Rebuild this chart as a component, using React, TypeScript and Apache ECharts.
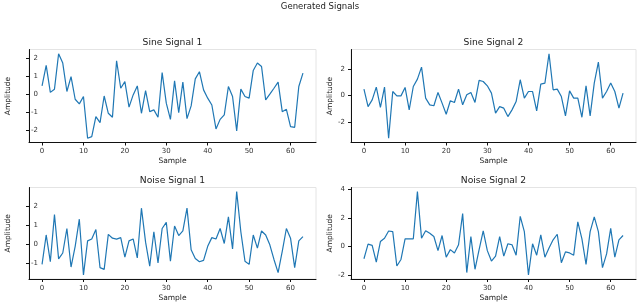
import React, { useEffect, useRef } from "react";
import * as echarts from "echarts";

const sine1 = [
  0.46, 1.6, 0.1, 0.28, 2.25, 1.73, 0.15, 0.98, -0.28, -0.54, -0.13, -2.45, -2.36, -1.25, -1.58, -0.1,
  -1.06, -1.28, 1.86, 0.33, 0.7, -0.72, -0.04, 0.46, -1.06, 0.2, -0.97, -0.87, -1.28, 1.2, -0.5, -1.4,
  0.74, -1.02, 0.67, -1.36, -0.65, 0.85, 1.25, 0.24, -0.22, -0.6, -1.93, -1.4, -1.15, 0.43, -0.13, -2.04,
  0.28, -0.13, -0.22, 1.32, 1.73, 1.54, -0.32, 0.0, 0.33, 0.67, -0.97, -0.84, -1.8, -1.84, 0.43, 1.17,
];
const sine2 = [
  0.48, -0.84, -0.33, 0.63, -0.91, 0.63, -3.24, 0.3, -0.03, -0.03, 0.61, -1.09, 0.68, 1.24, 2.15, -0.2,
  -0.71, -0.78, 0.23, -0.58, -1.42, -0.4, -0.53, 0.48, -0.71, 0.05, 0.23, -0.53, 1.14, 1.06, 0.73, 0.18,
  -1.34, -0.84, -0.96, -1.6, -1.09, -0.46, 1.19, -0.2, 0.3, 0.3, -1.16, 0.86, 0.94, 3.16, 0.43, 0.48,
  -0.08, -1.54, 0.35, -0.2, -0.2, -1.65, 0.73, -1.54, 0.94, 2.53, -0.2, 0.3, 0.94, 0.3, -0.96, 0.18,
];
const noise1 = [
  -1.05, 0.5, -0.91, 1.57, -0.76, -0.45, 0.84, -1.19, -0.1, 1.33, -1.6, 0.19, 0.29, 0.79, -1.22, -1.31,
  0.53, 0.33, 0.28, 0.36, -0.67, 0.19, 0.29, -0.71, 1.91, 0.12, -1.14, 0.67, -0.97, 0.84, 1.16, -0.88,
  0.97, 0.47, 0.71, 1.91, -0.28, -0.74, -0.91, -0.84, -0.1, 0.36, 0.29, 0.84, 0.05, 1.45, -0.24, 2.78,
  0.67, -0.88, -1.05, 0.5, -0.19, 0.71, 0.5, -0.02, -0.79, -1.48, -0.36, 0.84, 0.33, -1.22, 0.19, 0.41,
];
const noise2 = [
  -0.87, 0.16, 0.07, -1.1, 0.34, 0.57, 1.08, 1.03, -1.38, -0.92, 0.53, 0.53, 0.53, 3.84, 0.57, 1.1,
  0.92, 0.69, -0.3, 0.76, -0.76, -0.23, -0.46, 0.11, 2.3, -1.84, 0.69, -1.61, -0.23, 1.08, -0.3, -1.03,
  -0.69, 0.69, -0.69, 0.18, 0.11, -0.62, 2.11, 1.03, -2.0, 0.18, -0.62, 0.8, -0.76, -0.11, 0.46, 0.85,
  -1.15, -0.39, -0.46, -0.62, 1.72, 0.53, -1.26, 1.03, 2.07, 1.03, -1.49, -0.53, 1.26, -0.76, 0.46, 0.76,
];

const xTicks = [0, 10, 20, 30, 40, 50, 60];
const yTicksSine1 = [-2, -1, 0, 1, 2];
const yTicksSine2 = [-2, 0, 2];
const yTicksNoise1 = [-1, 0, 1, 2];
const yTicksNoise2 = [-2, 0, 2, 4];
const panelTitles = ["Sine Signal 1", "Sine Signal 2", "Noise Signal 1", "Noise Signal 2"];
const mainTitle = "Generated Signals";
const xName = "Sample";
const yName = "Amplitude";

const FONT = "DejaVu Sans";

function pad(values: number[]): [number, number] {
  const lo = Math.min(...values);
  const hi = Math.max(...values);
  const m = (hi - lo) * 0.05;
  return [lo - m, hi + m];
}

export default function App() {
  const ref = useRef<HTMLDivElement>(null);
  useEffect(() => {
    if (!ref.current) return;
    const chart = echarts.init(ref.current, undefined, { renderer: "svg" });
    const series = [sine1, sine2, noise1, noise2];
    const yTicks = [yTicksSine1, yTicksSine2, yTicksNoise1, yTicksNoise2];
    const grids = [
      { left: 29, top: 49.5, width: 287, height: 93 },
      { left: 351, top: 49.5, width: 285, height: 93 },
      { left: 29, top: 187.5, width: 287, height: 93.5 },
      { left: 351, top: 187.5, width: 285, height: 93.5 },
    ];
    const xMax = series[0].length - 1;
    const xPad = xMax * 0.05;
    const option: any = {
      animation: false,
      textStyle: { fontFamily: FONT },
      grid: grids.map((g) => ({ ...g, show: true, borderColor: "#e4e4e4", borderWidth: 1 })),
      xAxis: grids.map((_, i) => ({
        type: "value",
        gridIndex: i,
        min: -xPad,
        max: xMax + xPad,
        name: xName,
        nameLocation: "middle",
        nameGap: 14,
        nameTextStyle: { fontSize: 7.5, color: "#222", fontFamily: FONT },
        axisLine: { show: true, onZero: false, lineStyle: { color: "#111", width: 1 } },
        axisTick: { show: true, length: 3, customValues: xTicks, lineStyle: { color: "#111" } },
        axisLabel: { customValues: xTicks, fontSize: 7, color: "#333", margin: 5, fontFamily: FONT },
        splitLine: { show: false },
      })),
      yAxis: grids.map((_, i) => {
        const [mn, mx] = pad(series[i]);
        const leftCol = i % 2 === 0;
        return {
          type: "value",
          gridIndex: i,
          min: mn,
          max: mx,
          name: yName,
          nameLocation: "middle",
          nameGap: 18,
          nameTextStyle: { fontSize: 7.5, color: "#222", fontFamily: FONT },
          axisLine: { show: true, onZero: false, lineStyle: { color: "#111", width: 1 } },
          axisTick: { show: true, length: 3, customValues: yTicks[i], lineStyle: { color: "#111" } },
          axisLabel: leftCol
            ? { inside: true, align: "right", margin: 9, customValues: yTicks[i], fontSize: 7, color: "#333", fontFamily: FONT }
            : { customValues: yTicks[i], fontSize: 7, color: "#333", margin: 6, fontFamily: FONT },
          splitLine: { show: false },
        };
      }),
      series: series.map((s, i) => ({
        type: "line",
        xAxisIndex: i,
        yAxisIndex: i,
        data: s.map((v, k) => [k, v]),
        showSymbol: false,
        symbol: "none",
        lineStyle: { color: "#1f77b4", width: 1.2 },
      })),
      graphic: [
        {
          type: "text",
          style: { text: mainTitle, x: 320, y: 6, textAlign: "center", textVerticalAlign: "middle", fontSize: 8.5, fill: "#222", fontFamily: FONT },
        },
        ...grids.map((g, i) => ({
          type: "text",
          style: {
            text: panelTitles[i],
            x: g.left + g.width / 2,
            y: g.top - 8,
            textAlign: "center",
            textVerticalAlign: "middle",
            fontSize: 9.2,
            fill: "#222",
            fontFamily: FONT,
          },
        })),
      ],
    };
    chart.setOption(option);
    return () => chart.dispose();
  }, []);
  return <div ref={ref} style={{ position: "fixed", left: 0, top: 0, width: 640, height: 302 }} />;
}
